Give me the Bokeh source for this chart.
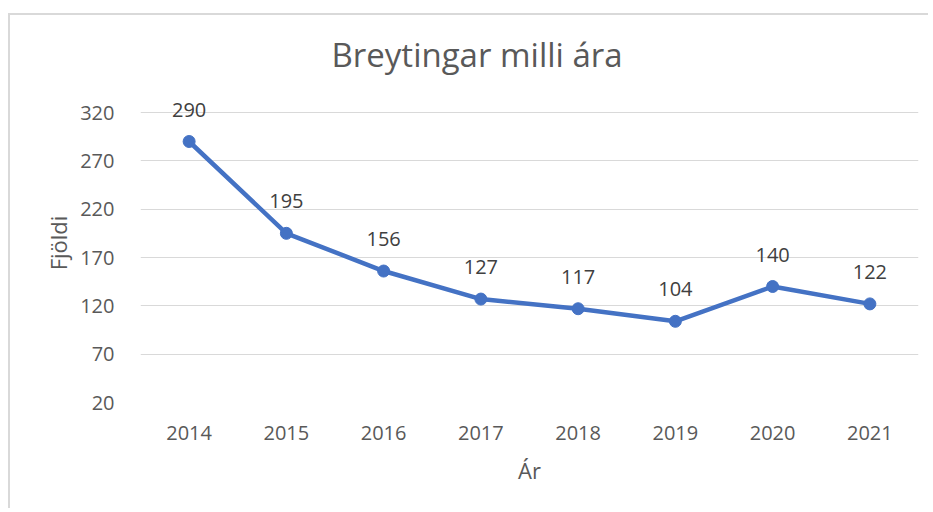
from bokeh.plotting import figure
from bokeh.models import ColumnDataSource, FixedTicker, Range1d, FactorRange, Title
from bokeh.core.properties import value
from bokeh.embed import file_html
from bokeh.resources import INLINE

# Data
years = ["2014", "2015", "2016", "2017", "2018", "2019", "2020", "2021"]
counts = [290, 195, 156, 127, 117, 104, 140, 122]
y_ticks = [20, 70, 120, 170, 220, 270, 320]

title_text = "Breytingar milli ára"
x_label = "Ár"
y_label = "Fjöldi"

FONT = "Open Sans"
source = ColumnDataSource(dict(x=years, y=counts, lbl=[str(c) for c in counts]))

p = figure(
    width=920, height=495,
    x_range=FactorRange(factors=years, range_padding=0),
    y_range=Range1d(20, 350),
    output_backend="svg", toolbar_location=None,
    min_border_left=130, min_border_right=12,
    min_border_top=68, min_border_bottom=108,
)
p.title = Title(text=title_text, align="left", offset=191,
                text_font=FONT, text_font_size="33px", text_font_style="normal",
                text_color="#595959", standoff=13)

p.outline_line_color = None
p.background_fill_color = "white"
p.border_fill_color = "white"

p.xgrid.grid_line_color = None
p.ygrid.grid_line_color = "#d9d9d9"
p.ygrid.grid_line_width = 1

for ax in (p.xaxis, p.yaxis):
    ax.axis_line_color = None
    ax.major_tick_line_color = None
    ax.minor_tick_line_color = None
    ax.major_label_text_font = FONT
    ax.major_label_text_font_size = "20px"
    ax.major_label_text_color = "#595959"
    ax.axis_label_text_font = FONT
    ax.axis_label_text_font_size = "22px"
    ax.axis_label_text_font_style = "normal"
    ax.axis_label_text_color = "#595959"

p.yaxis.ticker = FixedTicker(ticks=y_ticks)
p.yaxis.major_label_standoff = 20
p.yaxis.axis_label = y_label
p.yaxis.axis_label_standoff = 4
p.xaxis.major_label_standoff = 17
p.xaxis.axis_label = x_label
p.xaxis.axis_label_standoff = 12

p.line("x", "y", source=source, line_color="#4472C4", line_width=4.5, line_join="round")
p.scatter("x", "y", source=source, size=12, fill_color="#4472C4", line_color="#4472C4")
p.text("x", "y", text="lbl", source=source, text_font=value(FONT), text_font_size="20px",
       text_color="#404040", text_align="center", text_baseline="middle", y_offset=-32)

p.styles = {"border-left": "2px solid #d9d9d9", "border-top": "2px solid #d9d9d9",
            "margin-top": "13px", "margin-left": "8px"}

open("out.html", "w").write(file_html(p, INLINE))
